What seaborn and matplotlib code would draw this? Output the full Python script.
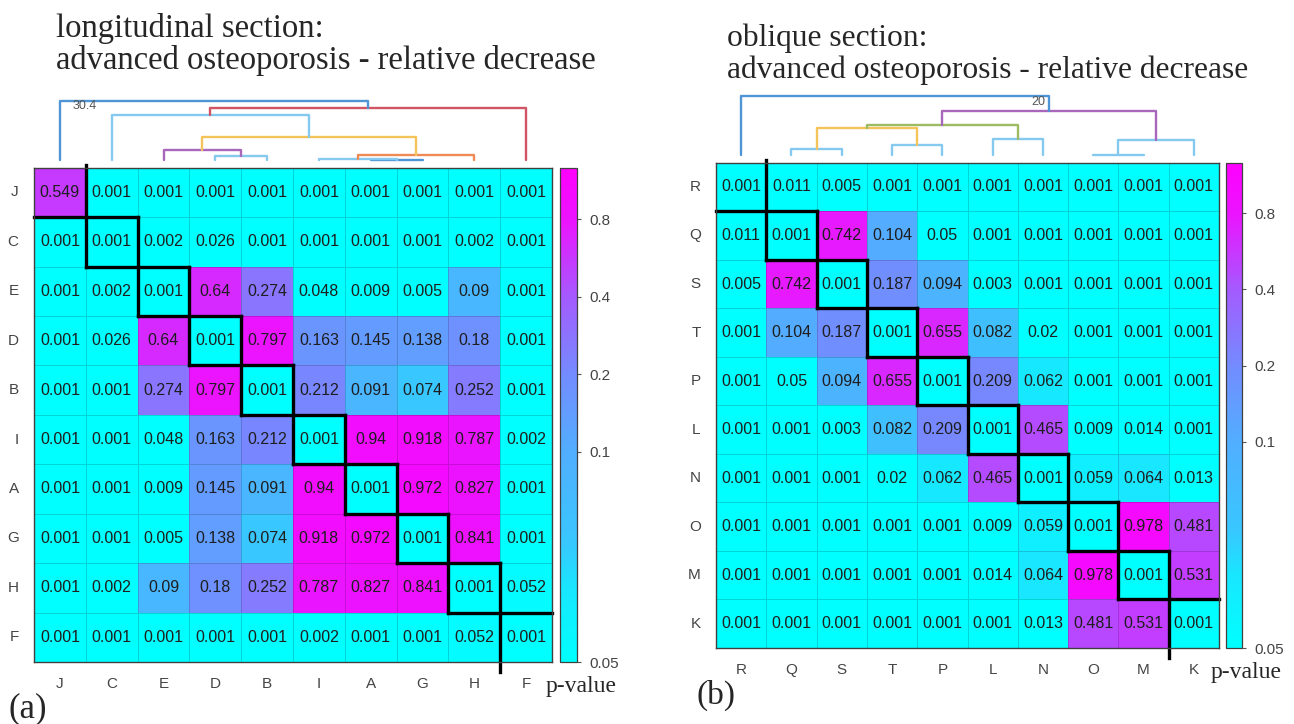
import numpy as np
import pandas as pd
import seaborn as sns
import matplotlib.pyplot as plt
from matplotlib.colors import FuncNorm, LinearSegmentedColormap

W, H = 1294, 724

labels_a = ['J', 'C', 'E', 'D', 'B', 'I', 'A', 'G', 'H', 'F']
pvals_a = [
    [0.549, 0.001, 0.001, 0.001, 0.001, 0.001, 0.001, 0.001, 0.001, 0.001],
    [0.001, 0.001, 0.002, 0.026, 0.001, 0.001, 0.001, 0.001, 0.002, 0.001],
    [0.001, 0.002, 0.001, 0.64, 0.274, 0.048, 0.009, 0.005, 0.09, 0.001],
    [0.001, 0.026, 0.64, 0.001, 0.797, 0.163, 0.145, 0.138, 0.18, 0.001],
    [0.001, 0.001, 0.274, 0.797, 0.001, 0.212, 0.091, 0.074, 0.252, 0.001],
    [0.001, 0.001, 0.048, 0.163, 0.212, 0.001, 0.94, 0.918, 0.787, 0.002],
    [0.001, 0.001, 0.009, 0.145, 0.091, 0.94, 0.001, 0.972, 0.827, 0.001],
    [0.001, 0.001, 0.005, 0.138, 0.074, 0.918, 0.972, 0.001, 0.841, 0.001],
    [0.001, 0.002, 0.09, 0.18, 0.252, 0.787, 0.827, 0.841, 0.001, 0.052],
    [0.001, 0.001, 0.001, 0.001, 0.001, 0.002, 0.001, 0.001, 0.052, 0.001],
]

labels_b = ['R', 'Q', 'S', 'T', 'P', 'L', 'N', 'O', 'M', 'K']
pvals_b = [
    [0.001, 0.011, 0.005, 0.001, 0.001, 0.001, 0.001, 0.001, 0.001, 0.001],
    [0.011, 0.001, 0.742, 0.104, 0.05, 0.001, 0.001, 0.001, 0.001, 0.001],
    [0.005, 0.742, 0.001, 0.187, 0.094, 0.003, 0.001, 0.001, 0.001, 0.001],
    [0.001, 0.104, 0.187, 0.001, 0.655, 0.082, 0.02, 0.001, 0.001, 0.001],
    [0.001, 0.05, 0.094, 0.655, 0.001, 0.209, 0.062, 0.001, 0.001, 0.001],
    [0.001, 0.001, 0.003, 0.082, 0.209, 0.001, 0.465, 0.009, 0.014, 0.001],
    [0.001, 0.001, 0.001, 0.02, 0.062, 0.465, 0.001, 0.059, 0.064, 0.013],
    [0.001, 0.001, 0.001, 0.001, 0.001, 0.009, 0.059, 0.001, 0.978, 0.481],
    [0.001, 0.001, 0.001, 0.001, 0.001, 0.014, 0.064, 0.978, 0.001, 0.531],
    [0.001, 0.001, 0.001, 0.001, 0.001, 0.001, 0.013, 0.481, 0.531, 0.001],
]

# dendrogram merges (child, child, height, colour); leaves 0..9, merges numbered from 10 on
c_blue, c_lblue, c_red = '#4f94d4', '#86c9ef', '#cf5565'
c_yel, c_pur, c_ora, c_grn = '#f4c45a', '#a867bd', '#ef8a55', '#9dbb62'
links_a = [(6, 7, 0.25, c_blue), (5, 10, 0.45, c_lblue), (11, 8, 2.4, c_ora),
           (3, 4, 2.2, c_lblue), (2, 13, 5.0, c_pur), (14, 12, 11.6, c_yel),
           (1, 15, 23.2, c_lblue), (16, 9, 27.0, c_red), (0, 17, 30.4, c_blue)]
links_b = [(1, 2, 2.1, c_lblue), (3, 4, 3.4, c_lblue), (10, 11, 9.3, c_yel),
           (5, 6, 5.4, c_lblue), (12, 13, 10.3, c_grn), (7, 8, 0.15, c_lblue),
           (15, 9, 5.1, c_lblue), (14, 16, 15.0, c_pur), (0, 17, 20.0, c_blue)]

cbar_ticks = [0.05, 0.1, 0.2, 0.4, 0.8]

# colour scale: cyan -> magenta, denser in blue around 0.1-0.2
cmap_pos = [0.0, 0.15, 0.24, 0.425, 0.58, 0.736, 0.8935, 1.0]
cmap_mix = [0.0, 0.10, 0.22, 0.32, 0.45, 0.64, 0.92, 1.0]
pcool = LinearSegmentedColormap.from_list(
    'pcool', [(s, plt.cm.cool(t)) for s, t in zip(cmap_pos, cmap_mix)])


def fwd(p):
    p = np.clip(np.asarray(p, dtype=float), 0.05, None)
    return np.where(p < 0.1, 0.425 * np.log2(p / 0.05), 0.425 + 0.157 * np.log2(p / 0.1))


def inv(t):
    t = np.asarray(t, dtype=float)
    return np.where(t < 0.425, 0.05 * 2 ** (t / 0.425), 0.1 * 2 ** ((t - 0.425) / 0.157))


def box(x0, y0, x1, y1):
    return [x0 / W, 1 - y1 / H, (x1 - x0) / W, (y1 - y0) / H]


sns.set_style('white')
plt.rcParams['font.family'] = ['Liberation Sans', 'DejaVu Sans']
serif = ['Liberation Serif', 'DejaVu Serif']

fig = plt.figure(figsize=(W / 100, H / 100), dpi=100)


def draw_panel(labels, pvals, links, top, heat_box, cbar_box, dend_box):
    ax = fig.add_axes(box(*heat_box))
    cax = fig.add_axes(box(*cbar_box))
    dax = fig.add_axes(box(*dend_box))
    n = len(labels)
    df = pd.DataFrame(pvals, index=labels, columns=labels)
    norm = FuncNorm((fwd, inv), vmin=0.05, vmax=float(inv(1.0)), clip=True)
    sns.heatmap(df, ax=ax, cbar_ax=cax, cmap=pcool, norm=norm,
                annot=True, fmt='g', annot_kws={'size': 11.5, 'color': '#1e1e1e'},
                linewidths=0.6, linecolor=(0, 0, 0, 0.16), square=False)
    ax.tick_params(length=0, labelsize=11, labelcolor='#444444', pad=11)
    ax.set_yticklabels(labels, rotation=0)
    ax.set_xticklabels(labels, rotation=0)
    for s in ax.spines.values():
        s.set_visible(True)
        s.set_color('#404040')
        s.set_linewidth(1.0)
    # staircase outline around the diagonal cells
    for k in range(n - 1):
        y0 = k - 0.05 if k == 0 else k
        y1 = k + 2.2 if k == n - 2 else k + 2
        ax.plot([k, k + 2], [k + 1, k + 1], color='black', lw=2.4, clip_on=False,
                solid_capstyle='projecting')
        ax.plot([k + 1, k + 1], [y0, y1], color='black', lw=2.4, clip_on=False,
                solid_capstyle='projecting')

    cb = ax.collections[0].colorbar
    cb.set_ticks(cbar_ticks)
    cb.set_ticklabels([f'{t:g}' for t in cbar_ticks])
    cb.outline.set_visible(True)
    cb.outline.set_linewidth(0.9)
    cb.outline.set_edgecolor('#404040')
    cb.ax.minorticks_off()
    cb.ax.tick_params(length=3, width=0.8, color='#555555', labelsize=11,
                      labelcolor='#444444', pad=6)

    # dendrogram
    pos = {i: (i + 0.5, 0.0) for i in range(n)}
    for j, (a, b, h, c) in enumerate(links):
        xa, ha = pos[a]
        xb, hb = pos[b]
        dax.plot([xa, xa, xb, xb], [ha, h, h, hb], color=c, lw=1.7, clip_on=False)
        pos[n + j] = ((xa + xb) / 2, h)
    dax.set_xlim(0, n)
    dax.set_ylim(0, top)
    dax.axis('off')
    return ax, dax


ax_a, dax_a = draw_panel(labels_a, pvals_a, links_a, 30.4,
                         (34, 167.7, 552, 662), (560, 167.7, 577, 662), (34, 101, 552, 160))
ax_b, dax_b = draw_panel(labels_b, pvals_b, links_b, 20.0,
                         (716, 162.7, 1219, 648), (1226, 162.7, 1242, 648), (716, 96, 1219, 155))

dax_a.text(0.75, 27.6, '30.4', fontsize=9, color='#555555', va='center', ha='left')
dax_b.text(6.55, 18.0, '20', fontsize=9, color='#555555', va='center', ha='right')

# titles and labels
fig.text(56 / W, 1 - 37 / H, 'longitudinal section:', family=serif, fontsize=23.5, va='baseline')
fig.text(56 / W, 1 - 69 / H, 'advanced osteoporosis - relative decrease', family=serif,
         fontsize=23.5, va='baseline')
fig.text(727 / W, 1 - 46 / H, 'oblique section:', family=serif, fontsize=22.7, va='baseline')
fig.text(727 / W, 1 - 78 / H, 'advanced osteoporosis - relative decrease', family=serif,
         fontsize=22.7, va='baseline')

fig.text(581 / W, 1 - 692 / H, 'p-value', family=serif, fontsize=17, ha='center', va='baseline')
fig.text(1246 / W, 1 - 678 / H, 'p-value', family=serif, fontsize=17, ha='center', va='baseline')
fig.text(9 / W, 1 - 717 / H, '(a)', family=serif, fontsize=25, va='baseline')
fig.text(697 / W, 1 - 704 / H, '(b)', family=serif, fontsize=24, va='baseline')

fig.savefig('out.png', dpi=100)
